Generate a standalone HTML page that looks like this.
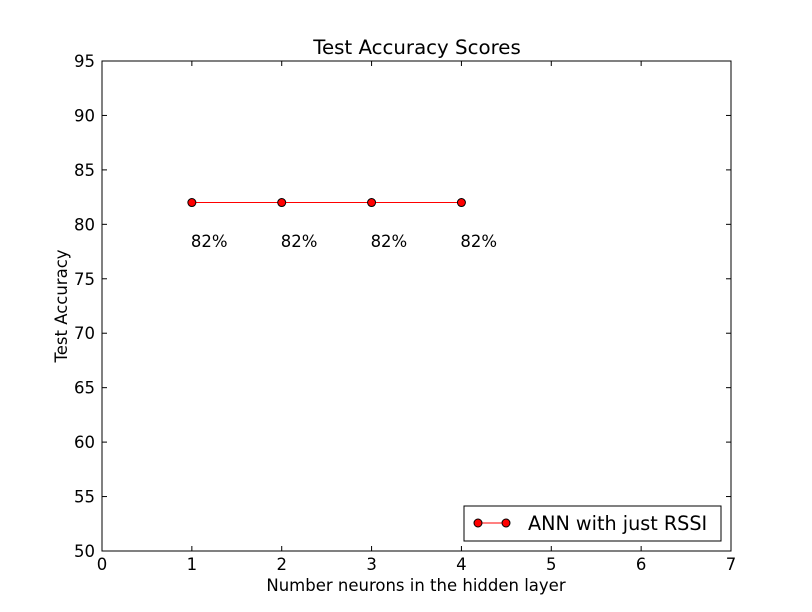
<!DOCTYPE html>
<html><head><meta charset="utf-8"><style>
body{margin:0;background:#fff;}
svg{display:block;font-family:"DejaVu Sans","Liberation Sans",sans-serif;}
</style></head><body>
<svg id="chart" width="812" height="612" viewBox="0 0 812 612"></svg>
<script>
const categories=[1,2,3,4];
const accuracy=[82,82,82,82];
const valueLabels=["82%","82%","82%","82%"];
const xTicks=[0,1,2,3,4,5,6,7];
const yTicks=[50,55,60,65,70,75,80,85,90,95];
const L=102,R=731,T=61,B=551;
const xs=v=>L+(v-0)*(R-L)/7;
const ys=v=>B-(v-50)*(B-T)/45;
const NS="http://www.w3.org/2000/svg";
const svg=document.getElementById('chart');
function mk(tag,attrs,parent){const e=document.createElementNS(NS,tag);for(const k in attrs)e.setAttribute(k,attrs[k]);(parent||svg).appendChild(e);return e;}
const bg=mk('rect',{x:0,y:0,width:812,height:612,fill:'#fff'});


const title=mk('text',{x:417,y:54,'text-anchor':'middle','font-size':19.8});
title.textContent='Test Accuracy Scores';


xTicks.forEach(v=>{
 const x=xs(v);
 mk('line',{x1:x,y1:B,x2:x,y2:B-5,stroke:'#000'});
 mk('line',{x1:x,y1:T,x2:x,y2:T+5,stroke:'#000'});
 const t=mk('text',{x:x,y:570,'text-anchor':'middle','font-size':16.5});
 t.textContent=v;
 
 
});
yTicks.forEach(v=>{
 const y=ys(v);
 mk('line',{x1:L,y1:y,x2:L+5,y2:y,stroke:'#000'});
 mk('line',{x1:R,y1:y,x2:R-5,y2:y,stroke:'#000'});
 const t=mk('text',{x:L-7,y:y+6,'text-anchor':'end','font-size':16.5});
 t.textContent=v;
 
 
});
const frame=mk('rect',{x:L,y:T,width:R-L,height:B-T,fill:'none',stroke:'#000'});


const xt=mk('text',{x:416,y:591,'text-anchor':'middle','font-size':16.5});
xt.textContent='Number neurons in the hidden layer';


const yt=mk('text',{x:0,y:0,'text-anchor':'middle','font-size':16.5,transform:'translate(67,306) rotate(-90)'});
yt.textContent='Test Accuracy';


const line=mk('polyline',{points:categories.map((c,i)=>xs(c)+','+ys(accuracy[i])).join(' '),fill:'none',stroke:'#f00','stroke-width':1});


categories.forEach((c,i)=>{
 const p=mk('circle',{cx:xs(c),cy:ys(accuracy[i]),r:4,fill:'#f00',stroke:'#000','stroke-width':1});
 
 
 const t=mk('text',{x:xs(c)-1,y:ys(accuracy[i]-4)+1,'font-size':16.5});
 t.textContent=valueLabels[i];
 
 
});
const lg=mk('g',{});


mk('rect',{x:464,y:506,width:257,height:35,fill:'#fff',stroke:'#000'},lg);
mk('line',{x1:478,y1:523,x2:506,y2:523,stroke:'#f00'},lg);
mk('circle',{cx:478,cy:523,r:4,fill:'#f00',stroke:'#000'},lg);
mk('circle',{cx:506,cy:523,r:4,fill:'#f00',stroke:'#000'},lg);
const lt=mk('text',{x:528,y:530,'font-size':19.2});
lg.appendChild(lt);
lt.textContent='ANN with just RSSI';


</script>
</body></html>
